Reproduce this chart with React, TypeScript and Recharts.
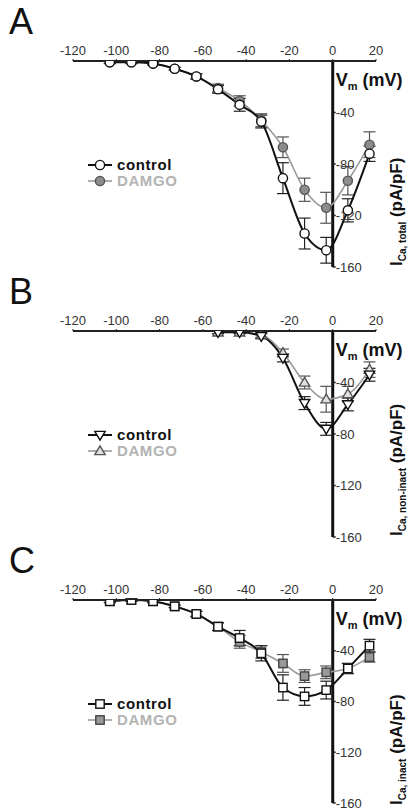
import React from 'react';
import { ComposedChart, Line, XAxis, YAxis, ErrorBar, ReferenceLine, ReferenceDot } from 'recharts';

// step potentials (mV)
const voltages = [-103, -93, -83, -73, -63, -53, -43, -33, -23, -13, -3, 7, 17];
const voltagesNonInact = [-53, -43, -33, -23, -13, -3, 7, 17];
const xTicks = [-120, -100, -80, -60, -40, -20, 0, 20];
const yTicks = [-40, -80, -120, -160];

// A: total current
const totalControl = [-1, -1, -2, -6, -12, -22, -34, -47, -91, -134, -147, -116, -72];
const totalControlSem = [1, 1, 1, 1, 2, 3, 5, 5, 12, 12, 10, 9, 6];
const totalDamgo = [-1, -1, -2, -6, -12, -21, -31, -46, -67, -100, -114, -93, -65];
const totalDamgoSem = [1, 1, 1, 1, 2, 3, 4, 5, 8, 9, 12, 11, 10];

// B: non-inactivating current
const nonInactControl = [-1, -1, -4, -21, -56, -76, -57, -34];
const nonInactControlSem = [1, 1, 2, 3, 5, 5, 5, 5];
const nonInactDamgo = [-1, -1, -3, -17, -40, -53, -49, -30];
const nonInactDamgoSem = [1, 1, 2, 3, 5, 10, 6, 6];

// C: inactivating current
const inactControl = [-1, 0, -1, -5, -11, -21, -30, -42, -69, -76, -71, -54, -36];
const inactControlSem = [1, 1, 1, 1, 2, 3, 6, 6, 10, 7, 7, 4, 5];
const inactDamgo = [-1, 0, -1, -5, -11, -21, -33, -41, -50, -60, -57, -54, -45];
const inactDamgoSem = [1, 1, 1, 1, 2, 3, 5, 5, 7, 5, 5, 4, 4];

const FONT = '"Liberation Sans", Arial, sans-serif';

type Shape = 'circle' | 'down' | 'up' | 'square';
type Style = { shape: Shape; fill: string; stroke: string };

const buildRows = (v: number[], c: number[], ce: number[], d: number[], de: number[]) =>
  v.map((x, i) => ({ v: x, control: c[i], controlErr: ce[i], damgo: d[i], damgoErr: de[i] }));

function Marker({ cx, cy, s }: { cx: number; cy: number; s: Style }) {
  if (cx == null || cy == null) return null;
  const sw = 1.4;
  if (s.shape === 'circle') return <circle cx={cx} cy={cy} r={4.6} fill={s.fill} stroke={s.stroke} strokeWidth={sw} />;
  if (s.shape === 'square') return <rect x={cx - 4.2} y={cy - 4.2} width={8.4} height={8.4} fill={s.fill} stroke={s.stroke} strokeWidth={sw} />;
  const r = 5.2;
  const pts =
    s.shape === 'down'
      ? `${cx - r},${cy - r * 0.7} ${cx + r},${cy - r * 0.7} ${cx},${cy + r}`
      : `${cx - r},${cy + r * 0.7} ${cx + r},${cy + r * 0.7} ${cx},${cy - r}`;
  return <polygon points={pts} fill={s.fill} stroke={s.stroke} strokeWidth={sw} />;
}

type PanelProps = {
  letter: string;
  sub: string;
  rows: ReturnType<typeof buildRows>;
  control: Style;
  damgo: Style;
  damgoLine: string;
  top: number;
  bottom?: number;
};

function Panel({ letter, sub, rows, control, damgo, damgoLine, top, bottom = 11 }: PanelProps) {
  return (
    <div style={{ position: 'absolute', left: 0, top, width: 409, height: 270 }}>
      <div style={{ position: 'absolute', left: 0, top: 0 }}>
        <ComposedChart width={409} height={278} data={rows} margin={{ top: 41, right: 33, left: 73, bottom }}>
          <XAxis
            dataKey="v"
            type="number"
            orientation="top"
            height={20}
            domain={[-120, 20]}
            ticks={xTicks}
            interval={0}
            axisLine={{ stroke: '#222', strokeWidth: 2 }}
            tickLine={{ stroke: '#222' }}
            tickSize={2}
            tickMargin={4}
            tick={{ fontSize: 13, fill: '#333', fontFamily: FONT }}
          />
          <YAxis hide type="number" domain={[-160, 0]} allowDataOverflow />
          <ReferenceLine x={0} stroke="#111" strokeWidth={3} />
          {yTicks.map((t) => (
            <ReferenceDot
              key={t}
              x={0}
              y={t}
              r={0}
              shape={(p: any) => (
                <g>
                  <line x1={p.cx} x2={p.cx + 3} y1={p.cy} y2={p.cy} stroke="#222" strokeWidth={1.5} />
                  <text x={p.cx + 3} y={p.cy} dy="0.36em" fontSize={13} fill="#333" fontFamily={FONT}>
                    {t}
                  </text>
                </g>
              )}
            />
          ))}
          <ReferenceDot
            x={0}
            y={0}
            r={0}
            shape={(p: any) => (
              <text x={p.cx + 3} y={p.cy + 25} fontSize={18} fontWeight="bold" fill="#111" fontFamily={FONT}>
                V
                <tspan fontSize={11} dy={4}>m</tspan>
                <tspan dy={-4}> (mV)</tspan>
              </text>
            )}
          />
          <Line
            dataKey="damgo"
            type="monotone"
            stroke={damgoLine}
            strokeWidth={1.6}
            isAnimationActive={false}
            dot={(p: any) => <Marker key={`d${p.index}`} cx={p.cx} cy={p.cy} s={damgo} />}
          >
            <ErrorBar dataKey="damgoErr" direction="y" width={6} stroke="#555" strokeWidth={1.2} />
          </Line>
          <Line
            dataKey="control"
            type="monotone"
            stroke="#111"
            strokeWidth={2}
            isAnimationActive={false}
            dot={(p: any) => <Marker key={`c${p.index}`} cx={p.cx} cy={p.cy} s={control} />}
          >
            <ErrorBar dataKey="controlErr" direction="y" width={6} stroke="#222" strokeWidth={1.2} />
          </Line>
        </ComposedChart>
      </div>
      <svg
        width={409}
        height={270}
        style={{ position: 'absolute', left: 0, top: 0, pointerEvents: 'none', overflow: 'visible' }}
      >
        <text x={9} y={34} fontSize={36} fill="#111" fontFamily={FONT}>
          {letter}
        </text>
        <line x1={88} x2={112} y1={165} y2={165} stroke="#111" strokeWidth={2} />
        <Marker cx={100} cy={165} s={control} />
        <text x={117} y={170} fontSize={15} fontWeight="bold" fill="#111" fontFamily={FONT} letterSpacing={0.6}>
          control
        </text>
        <line x1={88} x2={112} y1={181} y2={181} stroke={damgoLine} strokeWidth={1.6} />
        <Marker cx={100} cy={181} s={damgo} />
        <text x={117} y={186} fontSize={15} fontWeight="bold" fill="#b3b3b3" fontFamily={FONT} letterSpacing={0.6}>
          DAMGO
        </text>
        <text transform="translate(402, 266) rotate(-90)" fontSize={17} fontWeight="bold" fill="#111" fontFamily={FONT}>
          I<tspan fontSize={10} dy={4}>{sub}</tspan>
          <tspan dy={-4}> (pA/pF)</tspan>
        </text>
      </svg>
    </div>
  );
}

const rowsA = buildRows(voltages, totalControl, totalControlSem, totalDamgo, totalDamgoSem);
const rowsB = buildRows(voltagesNonInact, nonInactControl, nonInactControlSem, nonInactDamgo, nonInactDamgoSem);
const rowsC = buildRows(voltages, inactControl, inactControlSem, inactDamgo, inactDamgoSem);

export default function App() {
  return (
    <div style={{ position: 'absolute', left: 0, top: 0, width: 409, height: 811, background: '#fff', overflow: 'hidden' }}>
      <Panel
        top={0}
        letter="A"
        sub="Ca, total"
        rows={rowsA}
        control={{ shape: 'circle', fill: '#fff', stroke: '#111' }}
        damgo={{ shape: 'circle', fill: '#8c8c8c', stroke: '#555' }}
        damgoLine="#9a9a9a"
      />
      <Panel
        top={270}
        letter="B"
        sub="Ca, non-inact"
        rows={rowsB}
        control={{ shape: 'down', fill: '#fff', stroke: '#111' }}
        damgo={{ shape: 'up', fill: '#e0e0e0', stroke: '#555' }}
        damgoLine="#9a9a9a"
      />
      <Panel
        top={539}
        bottom={14}
        letter="C"
        sub="Ca, inact"
        rows={rowsC}
        control={{ shape: 'square', fill: '#fff', stroke: '#111' }}
        damgo={{ shape: 'square', fill: '#999', stroke: '#444' }}
        damgoLine="#9a9a9a"
      />
    </div>
  );
}
